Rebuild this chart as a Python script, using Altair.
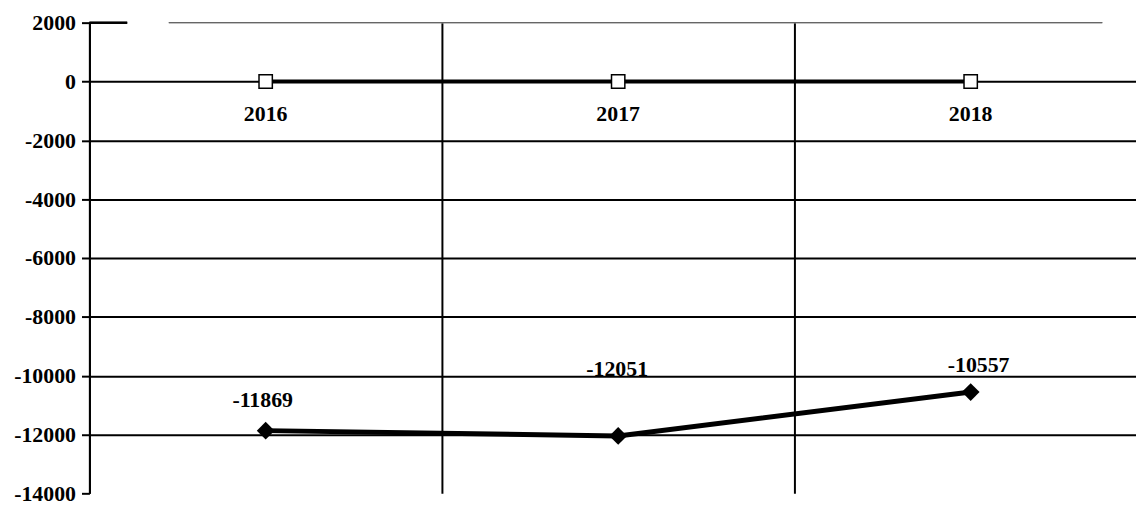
import altair as alt
import pandas as pd

years = ["2016", "2017", "2018"]
series_a = [0, 0, 0]
series_b = [-11869, -12051, -10557]
y_ticks = [-14000, -12000, -10000, -8000, -6000, -4000, -2000, 0, 2000]

df_a = pd.DataFrame({"year": years, "value": series_a})
df_b = pd.DataFrame({"year": years, "value": series_b, "label": [str(v) for v in series_b]})

FONT = "Liberation Serif"
FS = 22

# categories occupy one unit each; the visible part of the plot covers 2.969 units
x_enc = alt.X(
    "yr:Q",
    scale=alt.Scale(domain=[2015.5, 2018.469], nice=False, zero=False),
    axis=alt.Axis(
        title=None, labels=False, ticks=False, domain=False,
        values=[2015.5, 2016.5, 2017.5],
        grid=True, gridColor="black", gridWidth=2,
    ),
)
y_scale = alt.Scale(domain=[-14000, 2000], nice=False, zero=False)
y_enc = alt.Y(
    "value:Q",
    scale=y_scale,
    axis=alt.Axis(
        title=None, values=y_ticks,
        labelExpr="datum.value < 0 ? '-' + abs(datum.value) : '' + datum.value",
        domainColor="black", domainWidth=2,
        tickColor="black", tickWidth=2, tickSize=8,
        labelFont=FONT, labelFontSize=FS, labelFontWeight="bold", labelColor="black",
        labelPadding=6,
        grid=True,
        gridColor=alt.condition("datum.value <= -14000 || datum.value >= 2000",
                                alt.value("transparent"), alt.value("black")),
        gridWidth=2,
    ),
)

base_a = alt.Chart(df_a).transform_calculate(yr="toNumber(datum.year)")
base_b = alt.Chart(df_b).transform_calculate(yr="toNumber(datum.year)")

line_a = base_a.mark_line(color="black", strokeWidth=4).encode(x=x_enc, y=y_enc)
pts_a = base_a.mark_point(shape="square", size=180, filled=True, fill="white",
                          stroke="black", strokeWidth=1.5, opacity=1).encode(x="yr:Q", y="value:Q")
cat_labels = base_a.mark_text(font=FONT, fontSize=FS, fontWeight="bold", color="black",
                              dy=33).encode(x="yr:Q", y="value:Q", text="year:N")

line_b = base_b.mark_line(color="black", strokeWidth=5).encode(x="yr:Q", y="value:Q")
pts_b = base_b.mark_point(shape="diamond", size=320, filled=True, color="black",
                          opacity=1).encode(x="yr:Q", y="value:Q")

offsets = {"2016": (-3, -31), "2017": (-1, -67), "2018": (8, -27)}
val_labels = [
    base_b.transform_filter(alt.datum.year == yr).mark_text(
        font=FONT, fontSize=FS, fontWeight="bold", color="black", dx=dx, dy=dy
    ).encode(x="yr:Q", y="value:Q", text="label:N")
    for yr, (dx, dy) in offsets.items()
]

top_black = alt.Chart(df_a).mark_rule(color="black", strokeWidth=2).encode(
    y=alt.datum(2000), x=alt.value(0), x2=alt.value(38))
top_gray = alt.Chart(df_a).mark_rule(color="#666666", strokeWidth=1).encode(
    y=alt.datum(2000), x=alt.value(80), x2=alt.value(1020))

chart = alt.layer(
    line_a, top_black, top_gray, line_b, pts_b, pts_a, cat_labels, *val_labels
).properties(
    width=1054, height=474,
    autosize=alt.AutoSizeParams(type="none"),
    padding={"left": 82, "top": 13, "right": 0, "bottom": 10},
    background="white",
).configure_view(stroke=None)

chart.save("out.html", embed_options={"renderer": "svg", "actions": False})
